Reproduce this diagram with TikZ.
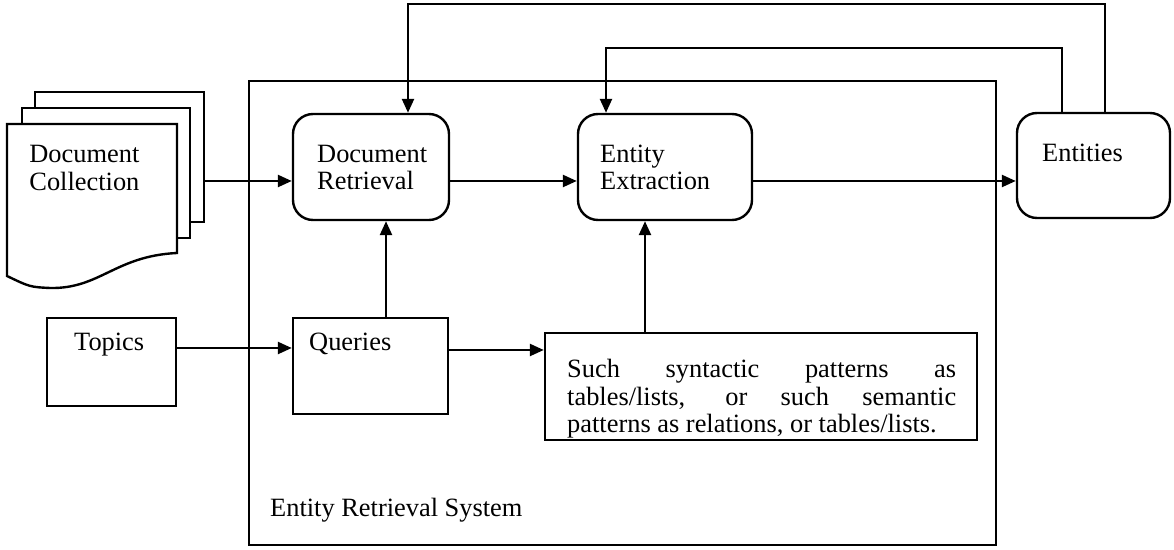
\documentclass[tikz,border=0pt]{standalone}
\usepackage{fontspec}
\setmainfont{Liberation Serif}
\usetikzlibrary{arrows.meta,positioning}
\tikzset{
    %Define standard arrow tip
    >={Triangle[length=7pt,width=6pt]},
    %Define style for boxes
    rbox/.style={
		rectangle,
		rounded corners=10pt,
		draw=black, line width=1.2pt},
	sbox/.style={
		rectangle,
		draw=black, line width=1.2pt},
	sheet/.style={
		draw=black, line width=1.2pt, fill=white},
	lbl/.style={
		inner sep=0pt,
		anchor=base west,
		align=left,
		font=\fontsize{13.2}{13.6}\selectfont},
	line/.style = {
		->,
		draw,
		line width=1.2pt}
}

\begin{document}
\begin{tikzpicture}[x=0.5pt, y=-0.5pt]
	\useasboundingbox (0,0) rectangle (1174,550);
	% system frame
	\node[sbox, minimum width=373.5pt, minimum height=232pt] (sys) at (622.5,313) {};
	\node[lbl] (syslbl) at ([shift={(11pt,15pt)}]sys.south west) {Entity Retrieval System};
	% document stack
	\draw[sheet] (35,92) rectangle (204,222);
	\draw[sheet] (22,108) rectangle (190,238);
	\draw[sheet] (7,276) -- (7,124) coordinate (docnw) -- (177,124) -- (177,253)
		.. controls (115,256) and (100,289) .. (50,288)
		.. controls (30,287) .. cycle;
	\coordinate (docsout) at (204,181);
	\node[lbl] (docs) at ([shift={(11pt,-33.1pt)}]docnw) {Document\\Collection};
	% boxes
	\node[rbox, minimum width=78pt, minimum height=53pt] (dr) at (371,167) {};
	\node[rbox, minimum width=87pt, minimum height=53pt] (ee) at (665,167) {};
	\node[rbox, minimum width=76.5pt, minimum height=52.5pt] (ent) at (1093.5,165.5) {};
	\node[sbox, minimum width=64.5pt, minimum height=44pt] (topics) at (111.5,362) {};
	\node[sbox, minimum width=77.5pt, minimum height=48pt] (queries) at (370.5,366) {};
	\node[sbox, minimum width=216pt, minimum height=53.5pt] (pat) at (761,386.5) {};
	% labels
	\node[lbl] at ([shift={(12.5pt,-38.6pt)}]dr.north west) {Document\\Retrieval};
	\node[lbl] at ([shift={(11.5pt,-38.6pt)}]ee.north west) {Entity\\Extraction};
	\node[lbl] at ([shift={(13pt,-25pt)}]ent.north west) {Entities};
	\node[lbl] at ([shift={(14pt,-17pt)}]topics.north west) {Topics};
	\node[lbl] at ([shift={(8.5pt,-17pt)}]queries.north west) {Queries};
	\node[lbl, text width=194.5pt, align=justify, font=\fontsize{13.2}{13.8}\selectfont]
		at ([shift={(11.5pt,-23pt)}]pat.north west)
		{\hyphenpenalty=10000 \exhyphenpenalty=10000
		Such syntactic patterns as\linebreak tables/lists, or such semantic\linebreak
		patterns as relations, or tables/lists.\par};
	% connector points
	\coordinate (drin) at (docsout -| dr.west);
	\coordinate (de) at ([yshift=-7pt]dr.east);
	\coordinate (ex) at ([yshift=-7pt]ee.east);
	\coordinate (tq) at ([yshift=7pt]topics.east);
	\coordinate (qp) at ([yshift=8pt]queries.east);
	\coordinate (qn) at ([xshift=7.75pt]queries.north);
	\coordinate (pn) at ([xshift=-58pt]pat.north);
	\coordinate (fb1) at ([xshift=5.75pt]ent.north);
	\coordinate (fb2) at ([xshift=-15.75pt]ent.north);
	\coordinate (top1) at (408,4);
	\coordinate (top2) at (606,48);
	% connectors
	\path[line] (docsout) -- (drin);
	\path[line] (de) -- (de -| ee.west);
	\path[line] (ex) -- (ex -| ent.west);
	\path[line] (tq) -- (tq -| queries.west);
	\path[line] (qp) -- (qp -| pat.west);
	\path[line] (qn) -- (qn |- dr.south);
	\path[line] (pn) -- (pn |- ee.south);
	\path[line] (fb1) |- (top1) -- (top1 |- dr.north);
	\path[line] (fb2) |- (top2) -- (top2 |- ee.north);
\end{tikzpicture}
\end{document}
